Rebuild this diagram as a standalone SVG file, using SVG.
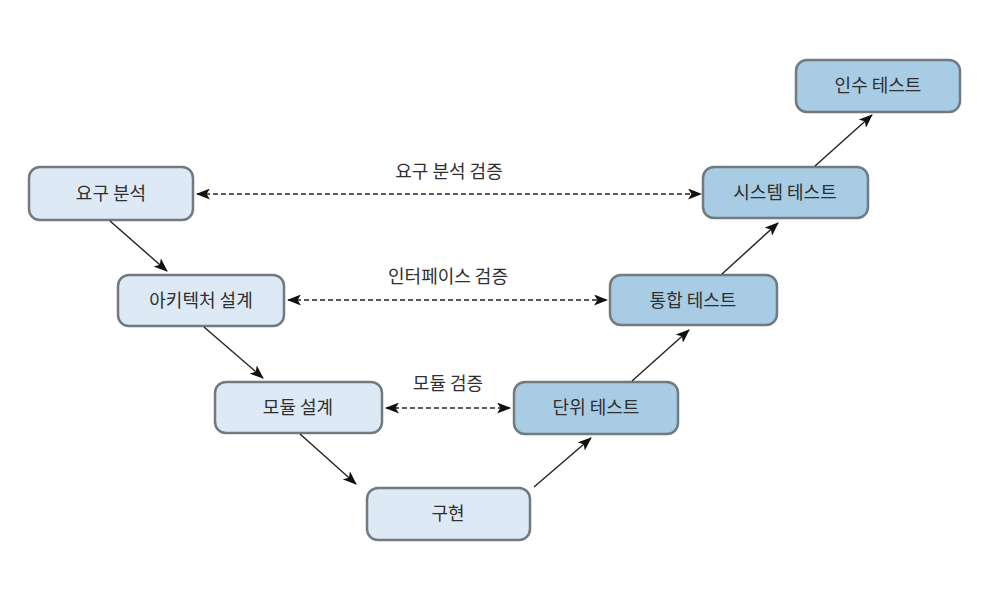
<svg xmlns="http://www.w3.org/2000/svg" width="986" height="591" viewBox="0 0 986 591">
<style>
.box{stroke:#717a80;stroke-width:2.5}
.l{fill:#dde9f4}
.r{fill:#a8cce3}
text{font-family:"Noto Sans CJK KR","Noto Sans",sans-serif;font-size:18px;fill:#2f2f2f;text-anchor:middle}
.c{stroke:#222;stroke-width:1.4;fill:none}
.d{stroke:#222;stroke-width:1.3;fill:none;stroke-dasharray:5 3}
</style>
<defs>
<marker id="ah" viewBox="0 0 14 11" refX="13" refY="5.5" markerWidth="14" markerHeight="11" markerUnits="userSpaceOnUse" orient="auto-start-reverse">
<path d="M0,0 L14,5.5 L0,11 L3.5,5.5 Z" fill="#111"/>
</marker>
</defs>
<rect width="986" height="591" fill="#fff"/>
<g id="n1"><rect class="box l" x="29" y="167" width="164" height="53" rx="11"/><text x="111" y="200">요구 분석</text></g>
<g id="n2"><rect class="box l" x="118" y="275" width="166" height="51" rx="11"/><text x="201" y="307">아키텍처 설계</text></g>
<g id="n3"><rect class="box l" x="215" y="382" width="167" height="51" rx="11"/><text x="298" y="414">모듈 설계</text></g>
<g id="n4"><rect class="box l" x="367" y="488" width="163" height="52" rx="11"/><text x="448" y="520">구현</text></g>
<g id="n5"><rect class="box r" x="514" y="382" width="164" height="52" rx="11"/><text x="596" y="414">단위 테스트</text></g>
<g id="n6"><rect class="box r" x="610" y="275" width="167" height="50" rx="11"/><text x="693" y="307">통합 테스트</text></g>
<g id="n7"><rect class="box r" x="703" y="167" width="165" height="51" rx="11"/><text x="785" y="199">시스템 테스트</text></g>
<g id="n8"><rect class="box r" x="796" y="60" width="164" height="52" rx="11"/><text x="878" y="92">인수 테스트</text></g>
<g id="connectors">
<line class="c" x1="110" y1="221" x2="167" y2="271" marker-end="url(#ah)"/>
<line class="c" x1="204" y1="327" x2="263" y2="378" marker-end="url(#ah)"/>
<line class="c" x1="300" y1="434" x2="356" y2="484" marker-end="url(#ah)"/>
<line class="c" x1="534" y1="487" x2="591" y2="438" marker-end="url(#ah)"/>
<line class="c" x1="632" y1="381" x2="689" y2="330" marker-end="url(#ah)"/>
<line class="c" x1="722" y1="274" x2="778" y2="223" marker-end="url(#ah)"/>
<line class="c" x1="815" y1="166" x2="872" y2="115" marker-end="url(#ah)"/>
<line class="d" x1="197" y1="194" x2="701" y2="194" marker-start="url(#ah)" marker-end="url(#ah)"/>
<line class="d" x1="288" y1="300" x2="607" y2="300" marker-start="url(#ah)" marker-end="url(#ah)"/>
<line class="d" x1="386" y1="408" x2="510" y2="408" marker-start="url(#ah)" marker-end="url(#ah)"/>
<text x="449" y="178">요구 분석 검증</text>
<text x="448" y="283">인터페이스 검증</text>
<text x="448" y="390">모듈 검증</text>
</g>
</svg>
